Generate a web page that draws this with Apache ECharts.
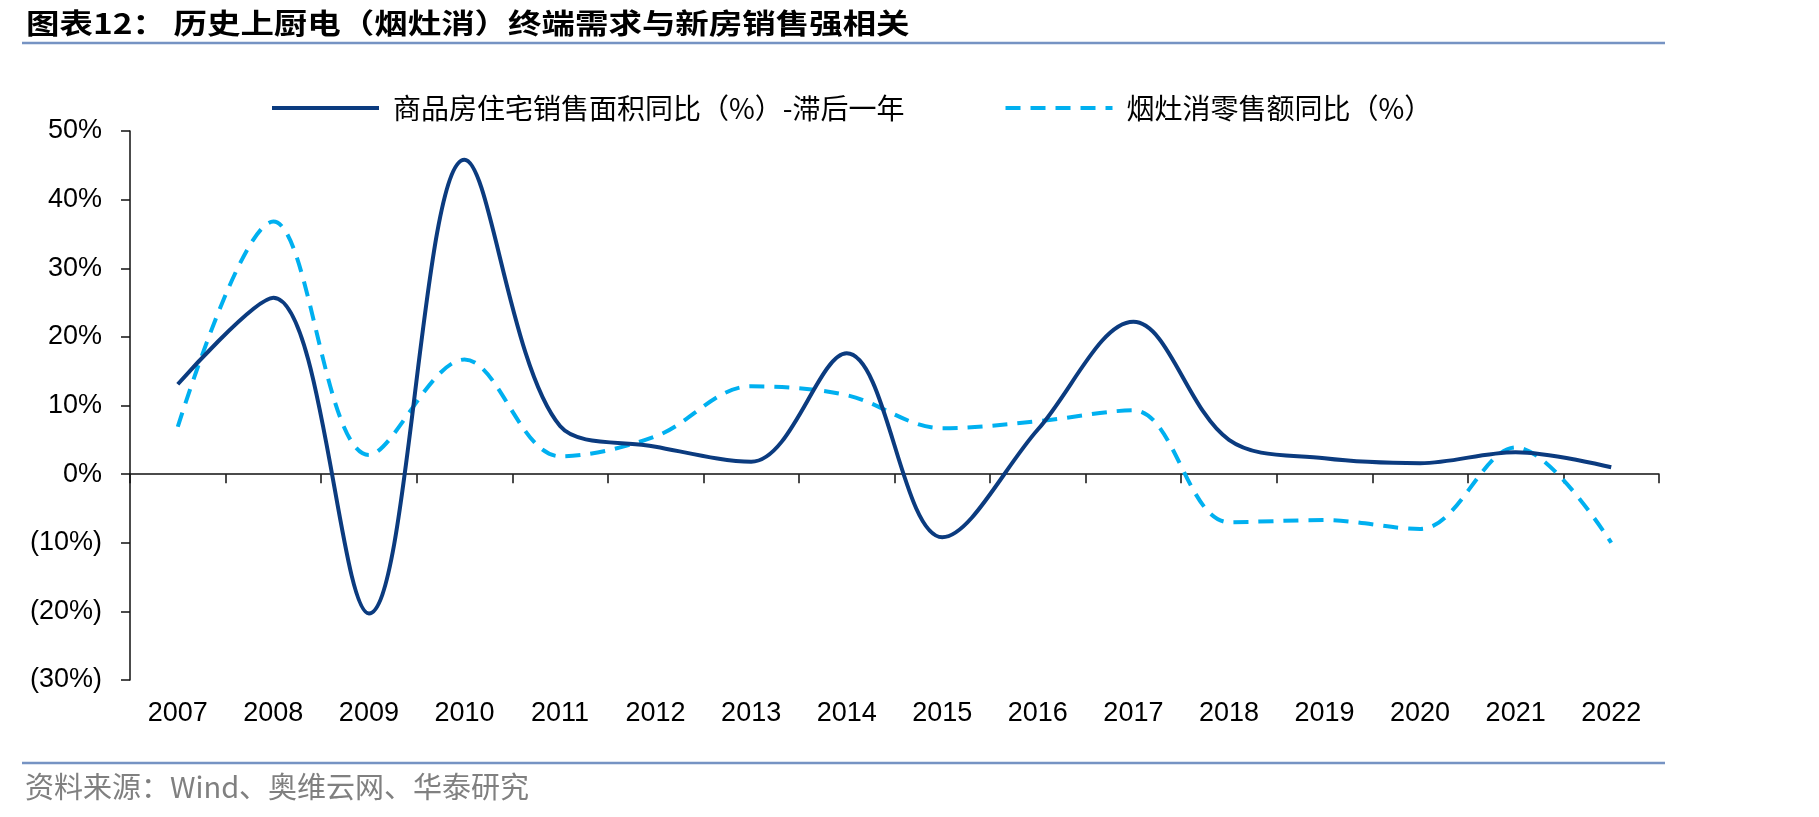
<!DOCTYPE html>
<html>
<head>
<meta charset="utf-8">
<script src="https://cdn.jsdelivr.net/npm/echarts@6/dist/echarts.min.js"></script>
<style>
html,body{margin:0;padding:0;background:#fff;}
#chart{width:1819px;height:817px;}
</style>
</head>
<body>
<div id="chart"></div>
<script>
// ---- data ----
const years = ['2007','2008','2009','2010','2011','2012','2013','2014','2015','2016','2017','2018','2019','2020','2021','2022'];
const housingSalesYoY = [13.1, 25.7, -20.3, 45.8, 7.0, 4.0, 1.8, 17.6, -9.2, 6.5, 22.2, 5.0, 2.3, 1.6, 3.2, 1.0];
const rangeHoodRetailYoY = [6.9, 36.8, 2.8, 16.7, 2.6, 5.5, 12.8, 11.5, 6.7, 7.7, 9.3, -7.0, -6.7, -8.0, 3.9, -10.0];
const seriesNames = ['商品房住宅销售面积同比（%）-滞后一年', '烟灶消零售额同比（%）'];
const yTickValues = [-30, -20, -10, 0, 10, 20, 30, 40, 50];
const yTickLabels = ['(30%)', '(20%)', '(10%)', '0%', '10%', '20%', '30%', '40%', '50%'];
const titleText = '图表12： 历史上厨电（烟灶消）终端需求与新房销售强相关';
const sourceText = '资料来源：Wind、奥维云网、华泰研究';

const chart = echarts.init(document.getElementById('chart'), null, {renderer: 'canvas'});
const latin = '"Liberation Sans", Arial, "Noto Sans CJK SC", sans-serif';
const cjk = '"Noto Sans CJK SC", "Liberation Sans", sans-serif';
const axisColor = '#111';
const navy = '#0B3B7F';
const sky = '#00B0F0';
const dashPattern = [15, 10];

const option = {
  backgroundColor: '#fff',
  animation: false,
  grid: {left: 130, right: 160, top: 131, bottom: 137, containLabel: false},
  legend: {
    left: 265, top: 89,
    itemWidth: 107, itemHeight: 30, itemGap: 99,
    itemStyle: {opacity: 0},
    lineStyle: {width: 4},
    textStyle: {fontFamily: cjk, fontSize: 28, color: '#000', padding: [0, 0, 0, 9]},
    data: [
      {name: seriesNames[0], lineStyle: {width: 4, type: 'solid', color: navy}},
      {name: seriesNames[1], lineStyle: {width: 4, type: dashPattern, color: sky}}
    ]
  },
  xAxis: [
    {
      type: 'category', data: years, position: 'bottom', boundaryGap: true,
      axisLine: {show: false, onZero: false}, axisTick: {show: false},
      axisLabel: {fontFamily: latin, fontSize: 27, color: '#000', margin: 20, interval: 0},
      splitLine: {show: false}
    },
    {
      type: 'category', data: years, position: 'bottom', boundaryGap: true,
      axisLine: {show: true, onZero: true, lineStyle: {color: axisColor, width: 1.5}},
      axisTick: {show: true, length: 9, interval: 0, lineStyle: {color: axisColor, width: 1.5}},
      axisLabel: {show: false}, splitLine: {show: false}
    }
  ],
  yAxis: {
    type: 'value', min: -30, max: 50, interval: 10,
    axisLine: {show: true, onZero: false, lineStyle: {color: axisColor, width: 1.5}},
    axisTick: {show: true, length: 9, lineStyle: {color: axisColor, width: 1.5}},
    axisLabel: {
      fontFamily: latin, fontSize: 27, color: '#000', margin: 28,
      formatter: function (v) {
        const i = yTickValues.indexOf(Math.round(v));
        return i >= 0 ? yTickLabels[i] : '';
      }
    },
    splitLine: {show: false}
  },
  series: [
    {
      name: seriesNames[0], type: 'line', xAxisIndex: 0, data: housingSalesYoY,
      smooth: 0.35, symbol: 'none', color: navy,
      lineStyle: {color: navy, width: 4}, z: 3
    },
    {
      name: seriesNames[1], type: 'line', xAxisIndex: 0, data: rangeHoodRetailYoY,
      smooth: 0.35, symbol: 'none', color: sky,
      lineStyle: {color: sky, width: 4, type: dashPattern}, z: 2
    }
  ],
  graphic: [
    {type: 'text', x: 26, y: 23, scaleX: 1.195, style: {text: titleText, font: 'bold 28px ' + cjk, fill: '#000', verticalAlign: 'middle', textVerticalAlign: 'middle'}},
    {type: 'line', shape: {x1: 22, y1: 43, x2: 1665, y2: 43}, style: {stroke: '#7693C3', lineWidth: 2.5}},
    {type: 'line', shape: {x1: 22, y1: 763, x2: 1665, y2: 763}, style: {stroke: '#7693C3', lineWidth: 2.5}},
    {type: 'text', x: 25, y: 787, style: {text: sourceText, font: '29px ' + cjk, fill: '#808080', verticalAlign: 'middle', textVerticalAlign: 'middle'}}
  ]
};
chart.setOption(option);
</script>
</body>
</html>
